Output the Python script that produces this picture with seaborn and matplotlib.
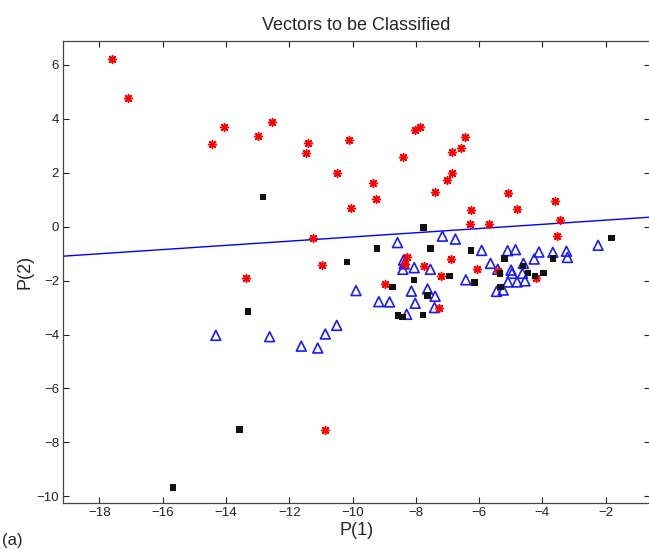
import numpy as np
import pandas as pd
import seaborn as sns
import matplotlib
matplotlib.use("Agg")
import matplotlib.pyplot as plt

# ---------- DATA ---------- #
# class 1: red asterisks
star_x = [-17.59, -17.10, -14.45, -14.07, -12.99, -12.55, -11.41, -11.48, -10.11, -10.49,
          -9.35, -9.27, -10.04, -8.41, -8.03, -7.88, -7.40, -7.03, -6.85, -6.85,
          -6.57, -6.46, -5.09, -4.79, -6.27, -6.29, -5.69, -3.60, -3.44, -3.53,
          -13.36, -11.24, -10.97, -8.29, -8.35, -7.74, -6.90, -7.22, -6.08, -8.98,
          -7.28, -5.40, -4.19, -10.86]
star_y = [6.23, 4.79, 3.07, 3.69, 3.35, 3.87, 3.12, 2.75, 3.22, 1.98,
          1.62, 1.04, 0.69, 2.59, 3.58, 3.69, 1.30, 1.73, 1.98, 2.77,
          2.92, 3.34, 1.26, 0.65, 0.61, 0.11, 0.09, 0.96, 0.24, -0.33,
          -1.92, -0.42, -1.42, -1.11, -1.40, -1.45, -1.20, -1.82, -1.57, -2.13,
          -3.01, -1.64, -1.92, -7.55]

# class 2: blue open triangles
tri_x = [-14.32, -12.62, -11.62, -11.10, -10.50, -10.86, -9.89, -8.58, -7.16, -6.75,
         -8.39, -8.37, -8.41, -8.05, -7.54, -6.42, -9.17, -8.83, -8.14, -7.63,
         -7.39, -8.02, -7.41, -8.29, -2.24, -5.92, -5.10, -4.85, -4.11, -4.26,
         -3.67, -3.21, -3.24, -5.64, -5.41, -4.99, -4.96, -4.60, -4.63, -5.09,
         -4.80, -4.55, -5.45, -5.24]
tri_y = [-4.03, -4.08, -4.43, -4.50, -3.66, -3.98, -2.37, -0.59, -0.35, -0.46,
         -1.24, -1.38, -1.58, -1.52, -1.58, -1.97, -2.78, -2.79, -2.39, -2.31,
         -2.58, -2.84, -3.00, -3.25, -0.69, -0.88, -0.89, -0.85, -0.94, -1.20,
         -0.95, -1.14, -0.91, -1.36, -1.58, -1.61, -1.73, -1.36, -1.73, -2.05,
         -2.05, -2.01, -2.40, -2.35]

# vectors to be classified: black squares
sq_x = [-12.83, -7.76, -13.31, -10.18, -9.22, -7.54, -6.25, -6.93, -6.14, -8.06,
        -8.74, -7.63, -8.57, -8.42, -7.77, -1.82, -5.20, -3.67, -5.34, -4.61,
        -4.45, -4.24, -3.96, -5.33, -13.57, -15.67]
sq_y = [1.11, -0.02, -3.14, -1.31, -0.80, -0.80, -0.89, -1.83, -2.06, -1.98,
        -2.24, -2.55, -3.30, -3.35, -3.28, -0.42, -1.17, -1.17, -1.73, -1.46,
        -1.71, -1.82, -1.72, -2.23, -7.52, -9.68]

# decision boundary y = w0 * x + w1
boundary_w = [0.078, 0.40]
x_limits = [-19.14, -0.6]
y_limits = [-10.26, 6.90]
x_ticks = [-18, -16, -14, -12, -10, -8, -6, -4, -2]
y_ticks = [-10, -8, -6, -4, -2, 0, 2, 4, 6]
# -------------------------- #

sns.set_theme(style="ticks")
plt.rcParams['font.family'] = ['Liberation Sans', 'DejaVu Sans']

fig = plt.figure(figsize=(6.49, 5.49), dpi=100)
ax = fig.add_axes([63.3 / 649, 45.7 / 549, (650 - 63.3) / 649, 462.6 / 549])

df_star = pd.DataFrame({"x": star_x, "y": star_y})
df_tri = pd.DataFrame({"x": tri_x, "y": tri_y})
df_sq = pd.DataFrame({"x": sq_x, "y": sq_y})

line_x = np.array(x_limits)
df_line = pd.DataFrame({"x": line_x, "y": boundary_w[0] * line_x + boundary_w[1]})
sns.lineplot(data=df_line, x="x", y="y", ax=ax, color="#0000ff", lw=1.0, zorder=1)

sns.scatterplot(data=df_tri, x="x", y="y", ax=ax, marker="^", s=50,
                facecolor="none", edgecolor="#1a1aff", linewidth=1.2, zorder=2)
sns.scatterplot(data=df_star, x="x", y="y", ax=ax, marker=(8, 2, 0), s=32,
                color="#ff0000", edgecolor="#ff0000", linewidth=1.1, zorder=3)
sns.scatterplot(data=df_sq, x="x", y="y", ax=ax, marker="s", s=22,
                color="#111111", edgecolor="none", zorder=4)

ax.set_xlim(x_limits)
ax.set_ylim(y_limits)
ax.set_xticks(x_ticks)
ax.set_yticks(y_ticks)
ax.tick_params(direction="in", length=4, width=0.8, top=True, right=True,
               labelsize=9.5, colors="#222222", pad=3)
for s in ax.spines.values():
    s.set_color("#444444")
    s.set_linewidth(0.9)

ax.set_title("Vectors to be Classified", fontsize=13, pad=8)
ax.set_xlabel("P(1)", fontsize=13, labelpad=2)
ax.set_ylabel("P(2)", fontsize=13, labelpad=2)
fig.text(0.003, 0.008, "(a)", fontsize=12)

plt.savefig("out.png", dpi=100)
